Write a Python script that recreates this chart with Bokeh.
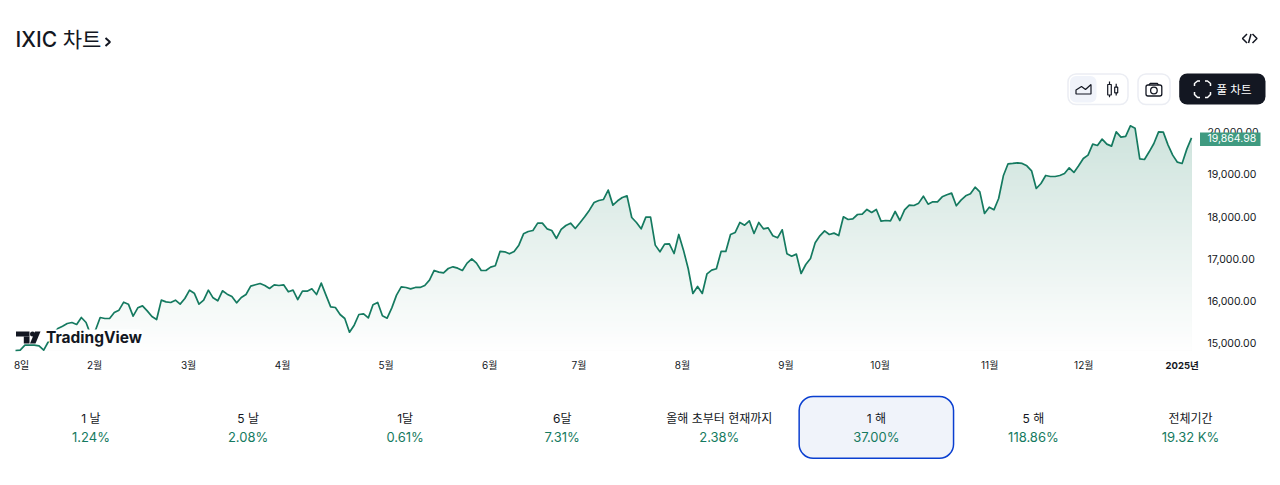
from bokeh.core.properties import value
from bokeh.embed import file_html
from bokeh.models import FixedTicker, LinearAxis, Range1d
from bokeh.plotting import figure
from bokeh.resources import INLINE
import numpy as np

# Daily closes
close = [
    14834, 14842, 14960, 14960, 14960, 14945, 14842, 15047, 15221, 15355, 15410, 15473, 15497, 15450, 15615, 15497,
    15197, 15315, 15615, 15592, 15592, 15734, 15789, 15978, 15931, 15647, 15844, 15891, 15773, 15639, 15568, 16026,
    15986, 15970, 16026, 15931, 16065, 16262, 16191, 15931, 16026, 16262, 16081, 16010, 16247, 16168, 16112, 15962,
    16089, 16160, 16357, 16389, 16420, 16373, 16302, 16389, 16373, 16389, 16223, 16262, 16041, 16239, 16239, 16294,
    16160, 16428, 16144, 15868, 15852, 15686, 15592, 15268, 15434, 15686, 15702, 15607, 15915, 15970, 15655, 15600,
    15844, 16144, 16341,
    16326, 16294, 16326, 16326, 16373, 16499, 16728, 16689, 16673, 16775, 16815, 16783, 16728, 16902, 17004, 16902,
    16728, 16728, 16807, 16839, 17178, 17170, 17123, 17178, 17328, 17596, 17651, 17675, 17848, 17848, 17714, 17675,
    17486, 17699, 17793, 17848, 17722, 17856, 17998, 18156, 18338, 18385, 18409, 18630, 18275, 18377, 18456, 18495,
    17983, 17864, 17714, 17991, 17991, 17328, 17170, 17351, 17359, 17130, 17580, 17209, 16775, 16184, 16349, 16184,
    16649, 16736, 16768, 17178, 17178, 17580, 17628, 17864, 17801, 17904, 17604, 17864, 17714, 17738, 17549, 17501,
    17691, 17123, 17067, 17115, 16657,
    16870, 17012, 17383, 17548, 17667, 17580, 17612, 17556, 17998, 17935, 17951, 18053, 18061, 18172, 18101, 18172,
    17896, 17911, 17904, 18124, 17911, 18164, 18274, 18266, 18322, 18487, 18298, 18353, 18353, 18472, 18519, 18558,
    18259, 18393, 18495, 18543, 18700, 18590, 18077, 18227, 18164, 18432, 18969, 19253, 19261, 19276, 19261, 19205,
    19087, 18669, 18787, 18977, 18953, 18953, 18977, 19024, 19158, 19048, 19205, 19379, 19458, 19718, 19687, 19837,
    19718, 19671, 20010, 19884, 19900, 20152, 20097, 19371, 19355, 19537, 19734, 20010, 20002, 19702, 19458, 19292,
    19261, 19600, 19864.98,
]
tick_days = [1.3, 16.8, 36.8, 56.8, 78.8, 100.8, 119.8, 141.8, 163.8, 183.8, 207.1, 227.1]
tick_labels = ["8일", "2월", "3월", "4월", "5월", "6월", "7월", "8월", "9월", "10월", "11월", "12월"]
year_day = 248
year_label = "2025년"
price_ticks = [15000, 16000, 17000, 18000, 19000, 20000]
period_names = ["1 날", "5 날", "1달", "6달", "올해 초부터 현재까지", "1 해", "5 해", "전체기간"]
period_returns = ["1.24%", "2.08%", "0.61%", "7.31%", "2.38%", "37.00%", "118.86%", "19.32 K%"]
selected_period = 5

FONT = value("Inter, Noto Sans CJK KR")
MEDIUM_FONT = value("Inter Medium, Inter, Noto Sans CJK KR")
AXIS_FONT = "Inter, Noto Sans CJK KR"
INK = "#131722"
GREEN = "#157a60"
PALE = "#f0f3fa"
EDGE = "#ebedf3"

# one canvas, main ranges are days/prices, "px" ranges are page pixels for the widget chrome
p = figure(width=1280, height=485, x_range=Range1d(-3.189, 268.28), y_range=Range1d(11710, 23118),
           x_axis_type=None, y_axis_type=None, output_backend="svg", toolbar_location=None, min_border=0,
           min_border_right=3, min_border_bottom=3, outline_line_color=None)
p.grid.visible = False
p.extra_x_ranges["px"] = Range1d(0, 1277)
p.extra_y_ranges["px"] = Range1d(482, 0)
PX = dict(x_range_name="px", y_range_name="px")


def put_text(x, y, text, size, color=INK, align="left", style="normal", font=FONT):
    p.text(x=[x], y=[y], text=[text], text_font=font, text_font_size=size, text_color=color, text_align=align,
           text_baseline="middle", text_font_style=style, **PX)


# CHART
days = np.arange(len(close))
closes = np.array(close, dtype=float)
y_bottom = 14834
y_top = 20300

# gradient fill: paint from the top down so lower layers cover the darker ones
top_rgb = np.array([205, 227, 220])
steps = 70
for i in range(steps):
    frac = 1 - i / (steps - 1)
    rgb = (255 + (top_rgb - 255) * frac).astype(int)
    level = y_bottom + (y_top - y_bottom) * frac
    p.varea(x=days, y1=y_bottom, y2=np.minimum(closes, level), fill_color="#%02x%02x%02x" % tuple(rgb))
p.line(days, closes, line_color=GREEN, line_width=1.7, line_join="round")

# axes float inside the canvas: negative standoff keeps their side panels from eating the frame
xaxis = LinearAxis(fixed_location=14290, ticker=FixedTicker(ticks=tick_days),
                   major_label_overrides=dict(zip(tick_days, tick_labels)), major_label_standoff=-14)
yaxis = LinearAxis(fixed_location=264.46, ticker=FixedTicker(ticks=price_ticks),
                   major_label_overrides={v: f"{v:,.2f}" for v in price_ticks}, major_label_standoff=-52)
for axis in (xaxis, yaxis):
    axis.axis_line_color = None
    axis.major_tick_line_color = None
    axis.minor_tick_line_color = None
    axis.major_tick_in = 0
    axis.major_tick_out = 0
    axis.minor_tick_in = 0
    axis.minor_tick_out = 0
    axis.major_label_text_font = AXIS_FONT
    axis.major_label_text_font_size = "10.5px"
    axis.major_label_text_color = INK
xaxis.major_label_text_font_size = "10px"
p.add_layout(xaxis, "below")
p.add_layout(yaxis, "right")

p.text(x=[year_day], y=[365], text=[year_label], text_font=FONT, text_font_size="9.5px", text_font_style="bold",
       text_color=INK, text_align="center", text_baseline="middle", y_range_name="px")

# last price tag
p.quad(left=[1199.5], right=[1260], top=[132], bottom=[145.5], fill_color="#3f9a80", line_color=None, level="overlay",
       **PX)
p.text(x=[1207], y=[close[-1]], text=[f"{close[-1]:,.2f}"], text_font=FONT, text_font_size="10.5px", text_color="white",
       text_align="left", text_baseline="middle", level="overlay", x_range_name="px")

# TradingView mark, it has a white patch behind it that hides the line
p.quad(left=[44], right=[142], top=[329], bottom=[341], fill_color="white", line_color=None, border_radius=3, **PX)
p.quad(left=[15.5], right=[29], top=[331], bottom=[336], fill_color=INK, line_color=None, **PX)
p.quad(left=[23.3], right=[29], top=[336], bottom=[343], fill_color=INK, line_color=None, **PX)
p.circle(x=[32], y=[333.5], radius=2.5, fill_color=INK, line_color=None, **PX)
p.patch([34.5, 40, 35, 29.5], [331, 331, 343, 343], fill_color=INK, line_color=None, **PX)
put_text(45.5, 337, "TradingView", "15.5px", style="bold")

# HEADER
put_text(15, 39, "IXIC 차트", "21px", font=MEDIUM_FONT)
p.line([105, 109.5, 105], [37.5, 41.5, 45.5], line_color=INK, line_width=2, **PX)
p.multi_line([[1246.5, 1242, 1246.5], [1248, 1250.5], [1252, 1256.5, 1252]],
             [[33.5, 38, 42.5], [42.5, 33.5], [33.5, 38, 42.5]], line_color=INK, line_width=1.5, **PX)

p.quad(left=[1067.5], right=[1127.5], top=[73.5], bottom=[104], fill_color="white", line_color=EDGE,
       line_width=1.5, border_radius=8, **PX)
p.quad(left=[1069.5], right=[1096], top=[75.5], bottom=[102], fill_color=PALE, line_color=None, border_radius=6, **PX)
p.patch([1075.5, 1075.5, 1081, 1085, 1090.5, 1090.5], [93.5, 89.5, 86, 89, 84, 93.5], fill_color=None,
        line_color=INK, line_width=1.2, **PX)
p.segment([1109, 1115.7], [81, 83.3], [1109, 1115.7], [96.7, 95], line_color=INK, line_width=1.2, **PX)
p.quad(left=[1107.2, 1114.2], right=[1110.8, 1117.2], top=[84, 86.7], bottom=[94.5, 92.3], fill_color="white",
       line_color=INK, line_width=1.2, **PX)

p.quad(left=[1137.5], right=[1169.5], top=[73.5], bottom=[104], fill_color="white", line_color=EDGE,
       line_width=1.5, border_radius=8, **PX)
p.quad(left=[1145.5], right=[1161.3], top=[84.5], bottom=[95.5], fill_color=None, line_color=INK, line_width=1.3,
       border_radius=2, **PX)
p.line([1148.5, 1149.8, 1156.8, 1158], [84.5, 82.8, 82.8, 84.5], line_color=INK, line_width=1.3, **PX)
p.circle(x=[1153.4], y=[90], radius=3.3, fill_color=None, line_color=INK, line_width=1.3, **PX)

p.quad(left=[1178.7], right=[1265], top=[73], bottom=[104], fill_color=INK, line_color=None, border_radius=8, **PX)
p.multi_line([[1194, 1194, 1197, 1199.5], [1204.5, 1207, 1210, 1210], [1194, 1194, 1197, 1199.5],
              [1204.5, 1207, 1210, 1210]],
             [[85.5, 83, 80.5, 80.5], [80.5, 80.5, 83, 85.5], [91.5, 94, 97, 97], [97, 97, 94, 91.5]],
             line_color="white", line_width=1.5, **PX)
put_text(1216, 89, "풀 차트", "11.5px", color="white")

# TABS
for i, (name, ret) in enumerate(zip(period_names, period_returns)):
    x = 90.5 + i * 157.07
    if i == selected_period:
        p.quad(left=[x - 77.2], right=[x + 77.2], top=[396], bottom=[457.7], fill_color=PALE, line_color="#0a3fd0",
               line_width=1.5, border_radius=14, **PX)
    put_text(x, 418, name, "12px", align="center")
    put_text(x, 436.5, ret, "13px", color=GREEN, align="center")

open("out.html", "w").write(file_html(p, INLINE))
